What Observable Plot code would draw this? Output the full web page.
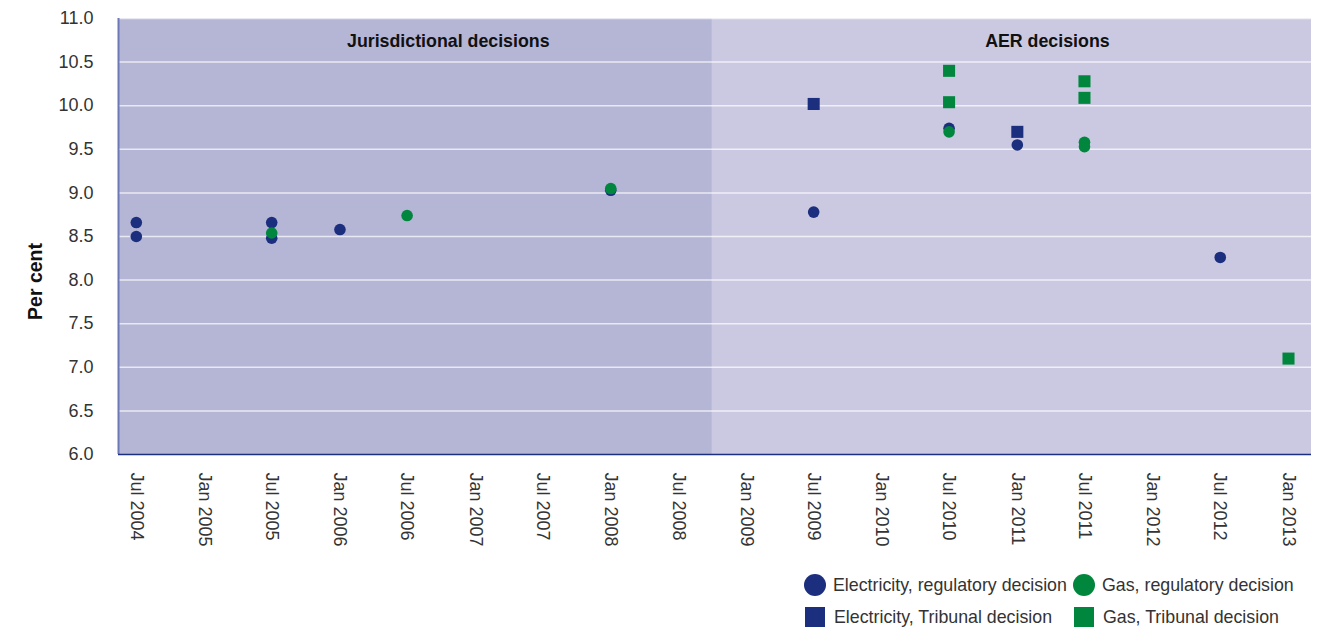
<!DOCTYPE html>
<html>
<head>
<meta charset="utf-8">
<script src="https://cdn.jsdelivr.net/npm/d3@7"></script>
<script src="https://cdn.jsdelivr.net/npm/@observablehq/plot@0.6"></script>
<style>
  body { margin: 0; background: #fff; font-family: "Liberation Sans", Arial, sans-serif; }
  #legend { display: grid; grid-template-columns: 269px auto; row-gap: 10px; padding-top: 14px; margin-left: 804px; font-size: 17.8px; color: #333; }
  .item { display: flex; align-items: center; height: 22px; white-space: nowrap; }
  .mk { width: 22px; height: 22px; margin-right: 7px; flex: none; }
  .circle { border-radius: 50%; }
  .square { width: 20px; height: 20px; margin-right: 9px; margin-left: 1px; }
</style>
</head>
<body>
<div id="chart"></div>
<div id="legend"></div>
<script>
// ---- data ----
const elecRegDates = ["2004-07-01","2004-07-01","2005-07-01","2005-07-01","2006-01-01","2008-01-01","2009-07-01","2010-07-01","2011-01-01","2012-07-01"];
const elecRegValues = [8.66, 8.50, 8.66, 8.48, 8.58, 9.03, 8.78, 9.74, 9.55, 8.26];
const gasRegDates = ["2005-07-01","2006-07-01","2008-01-01","2010-07-01","2011-07-01","2011-07-01"];
const gasRegValues = [8.54, 8.74, 9.05, 9.70, 9.58, 9.53];
const elecTribDates = ["2009-07-01","2011-01-01"];
const elecTribValues = [10.02, 9.70];
const gasTribDates = ["2010-07-01","2010-07-01","2011-07-01","2011-07-01","2013-01-01"];
const gasTribValues = [10.40, 10.04, 10.28, 10.09, 7.10];

const tickDates = ["2004-07-01","2005-01-01","2005-07-01","2006-01-01","2006-07-01","2007-01-01","2007-07-01","2008-01-01","2008-07-01","2009-01-01","2009-07-01","2010-01-01","2010-07-01","2011-01-01","2011-07-01","2012-01-01","2012-07-01","2013-01-01"];
const yTicks = [6.0, 6.5, 7.0, 7.5, 8.0, 8.5, 9.0, 9.5, 10.0, 10.5, 11.0];
const xDomain = ["2004-05-14", "2013-03-04"];
const regionLabels = ["Jurisdictional decisions", "AER decisions"];
const regionStarts = ["2004-05-14", "2008-10-01"];
const regionEnds = ["2008-10-01", "2013-03-04"];
const regionLabelDates = ["2006-10-20", "2011-03-23"];
const yAxisTitle = "Per cent";
const seriesNames = ["Electricity, regulatory decision", "Gas, regulatory decision", "Electricity, Tribunal decision", "Gas, Tribunal decision"];

// ---- build ----
const D = s => new Date(s + "T00:00:00Z");
const pts = (dates, vals) => dates.map((d, i) => ({date: D(d), value: vals[i]}));
const regions = regionLabels.map((l, i) => ({label: l, start: D(regionStarts[i]), end: D(regionEnds[i]), mid: D(regionLabelDates[i])}));
const NAVY = "#1c2f7e", GREEN = "#00873d";
const fills = ["#b5b5d6", "#cbc9e2"];

const chart = Plot.plot({
  width: 1329,
  height: 560,
  marginLeft: 118,
  marginRight: 18,
  marginTop: 18,
  marginBottom: 106,
  style: {fontFamily: "'Liberation Sans', Arial, sans-serif", fontSize: "16px", color: "#333", background: "#fff"},
  x: {type: "utc", domain: xDomain.map(D)},
  y: {domain: [6, 11]},
  marks: [
    Plot.rect([regions[0]], {x1: "start", x2: "end", y1: yTicks[0], y2: yTicks[yTicks.length - 1], fill: fills[0]}),
    Plot.rect([regions[1]], {x1: "start", x2: "end", y1: yTicks[0], y2: yTicks[yTicks.length - 1], fill: fills[1]}),
    Plot.ruleY(yTicks.slice(1), {stroke: "#fff", strokeOpacity: 0.7, strokeWidth: 1.5}),
    Plot.ruleX([D(xDomain[0])], {stroke: "#6c79b6", strokeWidth: 2}),
    Plot.ruleY([yTicks[0]], {stroke: NAVY, strokeWidth: 1.5}),
    Plot.axisY({ticks: yTicks, tickFormat: ".1f", tickSize: 0, tickPadding: 25, fontSize: 18, label: null}),
    Plot.axisX({ticks: tickDates.map(D), tickFormat: d3.utcFormat("%b %Y"), tickRotate: 90, tickSize: 0, tickPadding: 18, fontSize: 18, label: null}),
    Plot.text([yAxisTitle], {frameAnchor: "left", dx: -83, dy: 45, rotate: -90, text: d => d, fontWeight: "bold", fontSize: 19.5, fill: "#111", lineAnchor: "middle", textAnchor: "middle"}),
    Plot.text(regions, {x: "mid", y: 10.74, text: "label", fontWeight: "bold", fontSize: 17.8, fill: "#111"}),
    Plot.dot(pts(elecRegDates, elecRegValues), {x: "date", y: "value", r: 5.8, fill: NAVY}),
    Plot.dot(pts(elecTribDates, elecTribValues), {x: "date", y: "value", r: 6.8, symbol: "square", fill: NAVY}),
    Plot.dot(pts(gasRegDates, gasRegValues), {x: "date", y: "value", r: 5.8, fill: GREEN}),
    Plot.dot(pts(gasTribDates, gasTribValues), {x: "date", y: "value", r: 6.8, symbol: "square", fill: GREEN})
  ]
});
document.getElementById("chart").appendChild(chart);

// legend
const legendSpec = [
  {name: seriesNames[0], color: NAVY, shape: "circle"},
  {name: seriesNames[1], color: GREEN, shape: "circle"},
  {name: seriesNames[2], color: NAVY, shape: "square"},
  {name: seriesNames[3], color: GREEN, shape: "square"}
];
const lg = document.getElementById("legend");
legendSpec.forEach(s => {
  const it = document.createElement("div");
  it.className = "item";
  const mk = document.createElement("span");
  mk.className = "mk " + s.shape;
  mk.style.background = s.color;
  const tx = document.createElement("span");
  tx.textContent = s.name;
  it.appendChild(mk); it.appendChild(tx);
  lg.appendChild(it);
});
</script>
</body>
</html>
